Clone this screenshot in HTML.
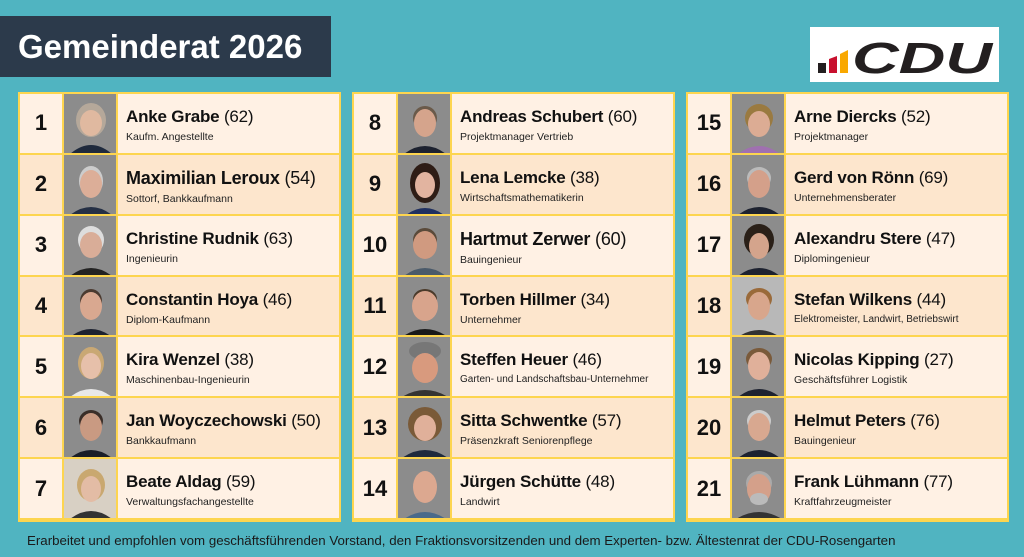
<!DOCTYPE html>
<html><head><meta charset="utf-8"><style>
*{margin:0;padding:0;box-sizing:border-box}
body{width:1024px;height:557px;background:#50b4c1;position:relative;overflow:hidden;font-family:"Liberation Sans",sans-serif}
.title{position:absolute;left:0;top:16px;width:331px;height:61px;background:#2c3a4b;color:#fff;font-weight:bold;font-size:33px;line-height:61px;padding-left:18px}
.logo{position:absolute;left:810px;top:27px;width:189px;height:55px;background:#fff}
.col{position:absolute;top:92px;width:323px;height:430px;border:2px solid #fdd54f;background:#fdd54f}
.row{position:relative;display:flex;height:60.85px;border-bottom:2px solid #fdd54f}
.row:last-child{border-bottom:none;height:58.9px}
.row.o{background:#fff1e4}.row.e{background:#fde6cd}
.num{width:44px;border-right:2px solid #fdd54f;display:flex;align-items:center;justify-content:center;font-weight:bold;font-size:22px;color:#111}
.ph{width:54px;border-right:2px solid #fdd54f;background:#8c8c8c;overflow:hidden}
.ph svg{display:block}
.tx{padding:13px 0 0 8px;color:#111}
.nm{font-size:17px;font-weight:bold;white-space:nowrap;letter-spacing:-0.2px}
.nm span{font-weight:normal}
.sb{font-size:10.5px;margin-top:4px;white-space:nowrap;color:#222}
.foot{position:absolute;left:27px;top:533px;font-size:13.3px;color:#1a1a1a;white-space:nowrap}
</style></head><body>
<div class="title">Gemeinderat 2026</div>
<div class="logo"><svg width="189" height="55" viewBox="0 0 189 55">
<polygon points="8,36 16,36 16,46 8,46" fill="#231f20"/>
<polygon points="19,32 27,29 27,46 19,46" fill="#c8102e"/>
<polygon points="30,27 38,23 38,46 30,46" fill="#f9a800"/>
<text x="42" y="46" font-family="Liberation Sans" font-weight="bold" font-style="italic" font-size="44" fill="#231f20" textLength="140" lengthAdjust="spacingAndGlyphs">CDU</text></svg></div>

<div class="col" style="left:18px">
<div class="row o"><div class="num">1</div><div class="ph"><svg width="54" height="60"><ellipse cx="27" cy="26" rx="15" ry="17" fill="#b5a89a"/><ellipse cx="27" cy="29" rx="11" ry="13" fill="#e0b9a0"/><path d="M6 60 Q27 42 48 60Z" fill="#1f2a3d"/></svg></div><div class="tx"><div class="nm">Anke Grabe <span>(62)</span></div><div class="sb">Kaufm. Angestellte</div></div></div>
<div class="row e"><div class="num">2</div><div class="ph"><svg width="54" height="60"><ellipse cx="27" cy="26" rx="12" ry="15" fill="#ccc"/><ellipse cx="27" cy="29" rx="11" ry="14" fill="#dcae98"/><path d="M6 60 Q27 44 48 60Z" fill="#253045"/></svg></div><div class="tx"><div class="nm" style="font-size:18px">Maximilian Leroux <span>(54)</span></div><div class="sb">Sottorf, Bankkaufmann</div></div></div>
<div class="row o"><div class="num">3</div><div class="ph"><svg width="54" height="60"><ellipse cx="27" cy="24" rx="13" ry="14" fill="#ddd"/><ellipse cx="27" cy="29" rx="11" ry="13" fill="#d9ad98"/><path d="M6 60 Q27 44 48 60Z" fill="#222"/></svg></div><div class="tx"><div class="nm">Christine Rudnik <span>(63)</span></div><div class="sb">Ingenieurin</div></div></div>
<div class="row e"><div class="num">4</div><div class="ph"><svg width="54" height="60"><ellipse cx="27" cy="24" rx="11" ry="12" fill="#4a3a30"/><ellipse cx="27" cy="29" rx="11" ry="14" fill="#d9a890"/><path d="M6 60 Q27 44 48 60Z" fill="#1d2230"/></svg></div><div class="tx"><div class="nm">Constantin Hoya <span>(46)</span></div><div class="sb">Diplom-Kaufmann</div></div></div>
<div class="row o"><div class="num">5</div><div class="ph"><svg width="54" height="60"><ellipse cx="27" cy="26" rx="13" ry="16" fill="#c9a874"/><ellipse cx="27" cy="29" rx="10" ry="13" fill="#e6c0aa"/><path d="M6 60 Q27 44 48 60Z" fill="#e8e8e8"/></svg></div><div class="tx"><div class="nm">Kira Wenzel <span>(38)</span></div><div class="sb">Maschinenbau-Ingenieurin</div></div></div>
<div class="row e"><div class="num">6</div><div class="ph"><svg width="54" height="60"><ellipse cx="27" cy="23" rx="12" ry="11" fill="#3a2e28"/><ellipse cx="27" cy="29" rx="11" ry="14" fill="#c99a82"/><path d="M6 60 Q27 44 48 60Z" fill="#1a1e28"/></svg></div><div class="tx"><div class="nm">Jan Woyczechowski <span>(50)</span></div><div class="sb">Bankkaufmann</div></div></div>
<div class="row o"><div class="num">7</div><div class="ph" style="background:#d8d0c4"><svg width="54" height="60"><ellipse cx="27" cy="26" rx="14" ry="16" fill="#c9a870"/><ellipse cx="27" cy="30" rx="10" ry="13" fill="#e3bca5"/><path d="M6 60 Q27 44 48 60Z" fill="#333"/></svg></div><div class="tx"><div class="nm">Beate Aldag <span>(59)</span></div><div class="sb">Verwaltungsfachangestellte</div></div></div>
</div>

<div class="col" style="left:352px">
<div class="row o"><div class="num">8</div><div class="ph"><svg width="54" height="60"><ellipse cx="27" cy="24" rx="12" ry="12" fill="#6a5a4a"/><ellipse cx="27" cy="29" rx="11" ry="14" fill="#d5a48c"/><path d="M6 60 Q27 44 48 60Z" fill="#1d2230"/></svg></div><div class="tx"><div class="nm">Andreas Schubert <span>(60)</span></div><div class="sb">Projektmanager Vertrieb</div></div></div>
<div class="row e"><div class="num">9</div><div class="ph"><svg width="54" height="60"><ellipse cx="27" cy="28" rx="15" ry="20" fill="#2e1d16"/><ellipse cx="27" cy="30" rx="10" ry="13" fill="#e2b4a0"/><path d="M8 60 Q27 46 46 60Z" fill="#203060"/></svg></div><div class="tx"><div class="nm">Lena Lemcke <span>(38)</span></div><div class="sb">Wirtschaftsmathematikerin</div></div></div>
<div class="row o"><div class="num">10</div><div class="ph"><svg width="54" height="60"><ellipse cx="27" cy="24" rx="12" ry="12" fill="#5a4a3a"/><ellipse cx="27" cy="29" rx="12" ry="14" fill="#d09a80"/><path d="M6 60 Q27 44 48 60Z" fill="#4a5a6a"/></svg></div><div class="tx"><div class="nm" style="font-size:18px">Hartmut Zerwer <span>(60)</span></div><div class="sb">Bauingenieur</div></div></div>
<div class="row e"><div class="num">11</div><div class="ph"><svg width="54" height="60"><ellipse cx="27" cy="22" rx="12" ry="10" fill="#4a3a2a"/><ellipse cx="27" cy="29" rx="13" ry="15" fill="#d8a48c"/><path d="M4 60 Q27 44 50 60Z" fill="#1a1a1a"/></svg></div><div class="tx"><div class="nm">Torben Hillmer <span>(34)</span></div><div class="sb">Unternehmer</div></div></div>
<div class="row o"><div class="num">12</div><div class="ph"><svg width="54" height="60"><ellipse cx="27" cy="14" rx="16" ry="9" fill="#777"/><ellipse cx="27" cy="31" rx="13" ry="15" fill="#d89a7e"/><path d="M4 60 Q27 46 50 60Z" fill="#333"/></svg></div><div class="tx"><div class="nm">Steffen Heuer <span>(46)</span></div><div class="sb" style="font-size:10px">Garten- und Landschaftsbau-Unternehmer</div></div></div>
<div class="row e"><div class="num">13</div><div class="ph"><svg width="54" height="60"><ellipse cx="27" cy="26" rx="17" ry="17" fill="#7a5a38"/><ellipse cx="27" cy="30" rx="11" ry="13" fill="#e0b09a"/><path d="M4 60 Q27 44 50 60Z" fill="#1f2a3d"/></svg></div><div class="tx"><div class="nm">Sitta Schwentke <span>(57)</span></div><div class="sb">Präsenzkraft Seniorenpflege</div></div></div>
<div class="row o"><div class="num">14</div><div class="ph"><svg width="54" height="60"><ellipse cx="27" cy="28" rx="12" ry="16" fill="#dca890"/><path d="M6 60 Q27 46 48 60Z" fill="#4a6a8a"/></svg></div><div class="tx"><div class="nm">Jürgen Schütte <span>(48)</span></div><div class="sb">Landwirt</div></div></div>
</div>

<div class="col" style="left:686px">
<div class="row o"><div class="num">15</div><div class="ph"><svg width="54" height="60"><ellipse cx="27" cy="24" rx="14" ry="14" fill="#9a7a40"/><ellipse cx="27" cy="30" rx="11" ry="13" fill="#dcac94"/><path d="M6 60 Q27 44 48 60Z" fill="#a070b0"/></svg></div><div class="tx"><div class="nm">Arne Diercks <span>(52)</span></div><div class="sb">Projektmanager</div></div></div>
<div class="row e"><div class="num">16</div><div class="ph"><svg width="54" height="60"><ellipse cx="27" cy="23" rx="12" ry="11" fill="#bbb"/><ellipse cx="27" cy="29" rx="11" ry="14" fill="#d4a08a"/><path d="M6 60 Q27 44 48 60Z" fill="#1d2230"/></svg></div><div class="tx"><div class="nm">Gerd von Rönn <span>(69)</span></div><div class="sb">Unternehmensberater</div></div></div>
<div class="row o"><div class="num">17</div><div class="ph"><svg width="54" height="60"><ellipse cx="27" cy="24" rx="15" ry="16" fill="#2a2018"/><ellipse cx="27" cy="30" rx="10" ry="13" fill="#d4a48c"/><path d="M6 60 Q27 44 48 60Z" fill="#1d2230"/></svg></div><div class="tx"><div class="nm">Alexandru Stere <span>(47)</span></div><div class="sb">Diplomingenieur</div></div></div>
<div class="row e"><div class="num">18</div><div class="ph" style="background:#b8b8b8"><svg width="54" height="60"><ellipse cx="27" cy="22" rx="13" ry="11" fill="#9a6a3a"/><ellipse cx="27" cy="29" rx="11" ry="14" fill="#d8a68c"/><path d="M6 60 Q27 46 48 60Z" fill="#333"/></svg></div><div class="tx"><div class="nm">Stefan Wilkens <span>(44)</span></div><div class="sb" style="font-size:10px">Elektromeister, Landwirt, Betriebswirt</div></div></div>
<div class="row o"><div class="num">19</div><div class="ph"><svg width="54" height="60"><ellipse cx="27" cy="22" rx="13" ry="11" fill="#7a5a3a"/><ellipse cx="27" cy="29" rx="11" ry="14" fill="#e0b09a"/><path d="M6 60 Q27 44 48 60Z" fill="#1d2230"/></svg></div><div class="tx"><div class="nm">Nicolas Kipping <span>(27)</span></div><div class="sb">Geschäftsführer Logistik</div></div></div>
<div class="row e"><div class="num">20</div><div class="ph"><svg width="54" height="60"><ellipse cx="27" cy="23" rx="12" ry="11" fill="#ccc"/><ellipse cx="27" cy="29" rx="11" ry="14" fill="#d8a890"/><path d="M6 60 Q27 44 48 60Z" fill="#1d2230"/></svg></div><div class="tx"><div class="nm">Helmut Peters <span>(76)</span></div><div class="sb">Bauingenieur</div></div></div>
<div class="row o"><div class="num">21</div><div class="ph"><svg width="54" height="60"><ellipse cx="27" cy="24" rx="13" ry="12" fill="#aaa"/><ellipse cx="27" cy="30" rx="12" ry="15" fill="#d4a08a"/><ellipse cx="27" cy="40" rx="9" ry="6" fill="#bbb"/><path d="M4 60 Q27 46 50 60Z" fill="#333"/></svg></div><div class="tx"><div class="nm">Frank Lühmann <span>(77)</span></div><div class="sb">Kraftfahrzeugmeister</div></div></div>
</div>

<div class="foot">Erarbeitet und empfohlen vom geschäftsführenden Vorstand, den Fraktionsvorsitzenden und dem Experten- bzw. Ältestenrat der CDU-Rosengarten</div>
</body></html>
